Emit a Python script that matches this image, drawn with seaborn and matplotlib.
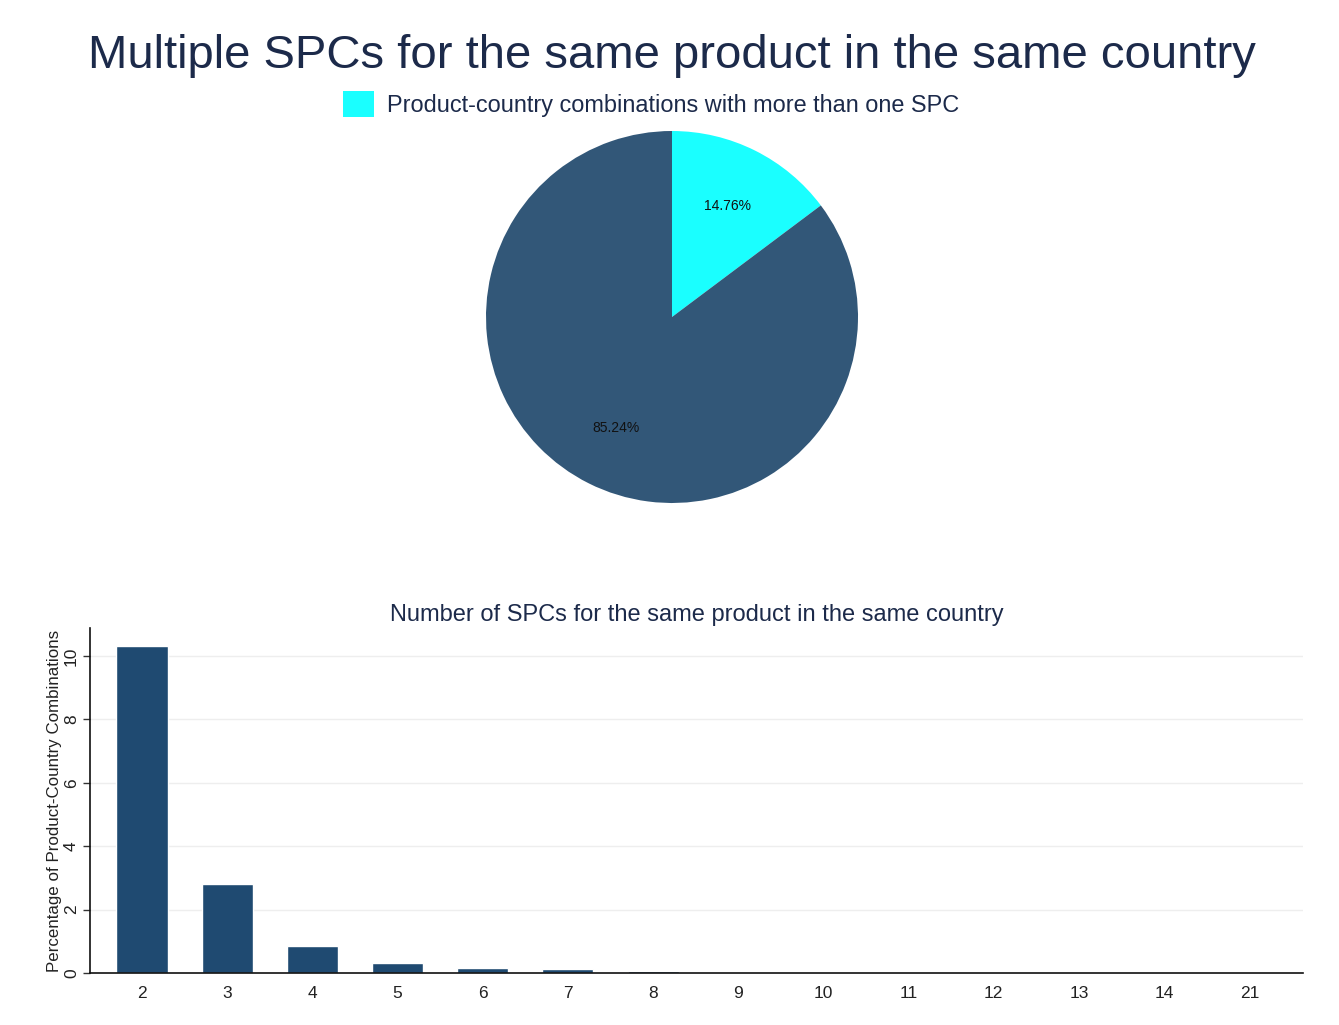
import matplotlib
matplotlib.use("Agg")
import matplotlib.pyplot as plt
import seaborn as sns
import pandas as pd

sns.set_theme(style="white")
plt.rcParams['font.family'] = ['Liberation Sans', 'DejaVu Sans']

# ---- data ----
pie_labels = ["Product-country combinations with more than one SPC", "Other"]
pie_values = [14.76, 85.24]
pie_colors = ["#1AFFFF", "#325778"]

spc_counts = ["2", "3", "4", "5", "6", "7", "8", "9", "10", "11", "12", "13", "14", "21"]
pct_values = [10.30, 2.80, 0.85, 0.33, 0.17, 0.12, 0.06, 0.03, 0.03, 0.03, 0.03, 0.03, 0.03, 0.03]

W, H = 1339, 1025
fig = plt.figure(figsize=(W / 100, H / 100), dpi=100)
fig.patch.set_facecolor("white")

def px_axes(left, top, width, height):
    return fig.add_axes([left / W, 1 - (top + height) / H, width / W, height / H])

navy = "#1C2A4A"

# ---- title ----
fig.text(672 / W, 1 - 56 / H, "Multiple SPCs for the same product in the same country",
         ha="center", va="center", fontsize=34, color=navy)

# ---- pie ----
axp = px_axes(486, 131, 372, 372)
wedges, texts, autotexts = axp.pie(
    pie_values, colors=pie_colors, startangle=90, counterclock=False,
    autopct="%.2f%%", pctdistance=0.67, radius=1,
    textprops=dict(fontsize=10, color="#111111"),
    wedgeprops=dict(linewidth=0))
axp.set_xlim(-1, 1)
axp.set_ylim(-1, 1)
axp.set_aspect("equal")
axp.axis("off")

fig.legend(handles=[wedges[0]], labels=[pie_labels[0]],
           loc="center", bbox_to_anchor=(651 / W, 1 - 104 / H),
           frameon=False, fontsize=16.9, handlelength=1.3, handleheight=1.3,
           handletextpad=0.55, labelcolor=navy, borderpad=0)

# ---- bar chart ----
df = pd.DataFrame({"n": spc_counts, "pct": pct_values})
axb = px_axes(90, 628, 1213, 345)
sns.barplot(data=df, x="n", y="pct", order=spc_counts, color="#1F4A71",
            saturation=1, width=0.6, ax=axb)
axb.set_xlim(-0.61, len(spc_counts) - 1 + 0.63)
axb.set_ylim(0, 10.88)
axb.set_yticks([0, 2, 4, 6, 8, 10])
axb.yaxis.grid(True, color="#EEEEEE", linewidth=1)
axb.set_axisbelow(True)
for s in ["top", "right"]:
    axb.spines[s].set_visible(False)
for s in ["left", "bottom"]:
    axb.spines[s].set_color("#111111")
    axb.spines[s].set_linewidth(1.2)
axb.tick_params(axis="y", which="both", left=True, length=5, width=1, color="#333333",
                labelsize=12.5, labelcolor="#222222", pad=3)
for lab in axb.get_yticklabels():
    lab.set_rotation(90)
    lab.set_va("center")
axb.tick_params(axis="x", length=0, labelsize=12.5, labelcolor="#222222", pad=9)
axb.set_xlabel("")
axb.set_ylabel("Percentage of Product-Country Combinations", fontsize=12.2, color="#222222", labelpad=1)
axb.set_title("Number of SPCs for the same product in the same country",
              fontsize=17, color=navy, pad=5)

fig.savefig("out.png", dpi=100, facecolor="white")
